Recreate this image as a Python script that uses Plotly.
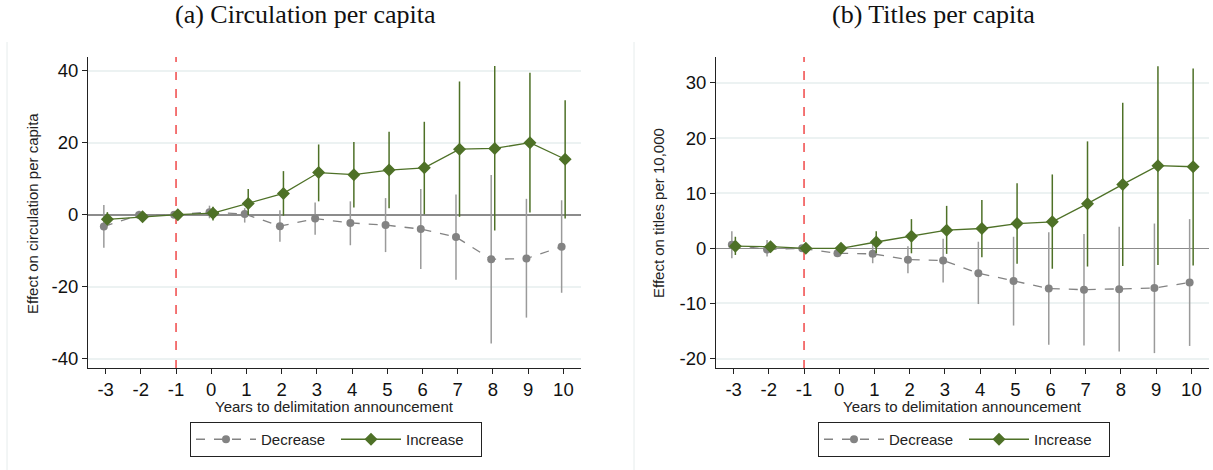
import plotly.graph_objects as go

years = [-3, -2, -1, 0, 1, 2, 3, 4, 5, 6, 7, 8, 9, 10]
x_ticks = [-3, -2, -1, 0, 1, 2, 3, 4, 5, 6, 7, 8, 9, 10]
x_ticklabels = ["-3", "-2", "-1", "0", "1", "2", "3", "4", "5", "6", "7", "8", "9", "10"]

# Panel (a): circulation per capita
a_dec = [-3.3, -0.1, 0.0, 0.7, 0.2, -3.2, -1.1, -2.3, -2.9, -4.0, -6.2, -12.4, -12.2, -8.9]
a_dec_hi = [2.7, 1.1, 0.0, 2.5, 1.8, 1.2, 3.4, 3.7, 4.6, 7.1, 5.6, 11.0, 4.4, 4.0]
a_dec_lo = [-9.2, -1.2, 0.0, -1.0, -2.2, -7.5, -5.6, -8.5, -10.4, -15.1, -18.1, -35.8, -28.6, -21.7]
a_inc = [-1.3, -0.6, 0.0, 0.4, 3.1, 5.9, 11.7, 11.1, 12.4, 13.0, 18.2, 18.4, 20.0, 15.4]
a_inc_hi = [0.7, 0.3, 0.0, 2.2, 7.1, 12.1, 19.5, 20.2, 23.0, 25.8, 37.0, 41.3, 39.4, 31.8]
a_inc_lo = [-2.4, -1.4, 0.0, -1.6, -0.1, -0.3, 3.7, 2.0, 1.8, 0.1, -0.6, -4.4, 0.6, -1.1]
a_yticks = [-40, -20, 0, 20, 40]
a_yticklabels = ["-40", "-20", "0", "20", "40"]

# Panel (b): titles per capita
b_dec = [0.66, -0.2, 0.0, -0.9, -1.0, -2.05, -2.2, -4.5, -5.9, -7.3, -7.5, -7.4, -7.2, -6.2]
b_dec_hi = [3.1, 1.5, 0.0, -0.6, 1.5, 0.4, 1.75, 1.2, 2.1, 2.9, 2.6, 3.9, 4.5, 5.3]
b_dec_lo = [-1.8, -1.5, 0.0, -1.2, -2.7, -4.5, -6.2, -10.1, -14.0, -17.5, -17.6, -18.7, -19.0, -17.7]
b_inc = [0.4, 0.3, 0.0, 0.0, 1.15, 2.2, 3.3, 3.6, 4.5, 4.8, 8.1, 11.6, 15.0, 14.8]
b_inc_hi = [2.1, 0.8, 0.0, 0.3, 3.1, 5.3, 7.7, 8.75, 11.8, 13.4, 19.4, 26.4, 33.0, 32.6]
b_inc_lo = [-1.2, -0.2, 0.0, -0.3, -0.9, -0.9, -1.0, -1.6, -2.8, -3.7, -3.3, -3.2, -3.0, -3.1]
b_yticks = [-20, -10, 0, 10, 20, 30]
b_yticklabels = ["-20", "-10", "0", "10", "20", "30"]

series_names = ["Decrease", "Increase"]
titles = ["(a) Circulation per capita", "(b) Titles per capita"]
ytitles = ["Effect on circulation per capita", "Effect on titles per 10,000"]
xtitle = "Years to delimitation announcement"

GRAY = "#838383"
GRAY_CI = "#9a9a9a"
GREEN = "#4e7127"
FONT = "Liberation Sans, Arial, sans-serif"

fig = go.Figure()

def add_panel(xa, ya, legend, dec, dhi, dlo, inc, ihi, ilo):
    xd = [v - 0.05 for v in years]
    xi = [v + 0.05 for v in years]
    fig.add_trace(go.Scatter(
        x=xd, y=dec, mode="lines+markers", name=series_names[0],
        line=dict(color=GRAY, width=1.3, dash="dash"),
        marker=dict(symbol="circle", size=8, color=GRAY),
        error_y=dict(type="data", symmetric=False,
                     array=[h - v for h, v in zip(dhi, dec)],
                     arrayminus=[v - l for v, l in zip(dec, dlo)],
                     color=GRAY_CI, thickness=1.5, width=0),
        xaxis=xa, yaxis=ya, legend=legend))
    fig.add_trace(go.Scatter(
        x=xi, y=inc, mode="lines+markers", name=series_names[1],
        line=dict(color=GREEN, width=1.3),
        marker=dict(symbol="diamond", size=10, color=GREEN),
        error_y=dict(type="data", symmetric=False,
                     array=[h - v for h, v in zip(ihi, inc)],
                     arrayminus=[v - l for v, l in zip(inc, ilo)],
                     color=GREEN, thickness=1.5, width=0),
        xaxis=xa, yaxis=ya, legend=legend))

add_panel("x", "y", "legend", a_dec, a_dec_hi, a_dec_lo, a_inc, a_inc_hi, a_inc_lo)
add_panel("x2", "y2", "legend2", b_dec, b_dec_hi, b_dec_lo, b_inc, b_inc_hi, b_inc_lo)

W, H = 1213, 470
def px(x):
    return x / W
def py(y):
    return (H - y) / H

axis_common = dict(showline=True, linecolor="#222", linewidth=1, ticks="outside",
                   ticklen=5, tickcolor="#222", automargin=False,
                   tickfont=dict(family=FONT, size=18.5, color="#111"))

legend_common = dict(orientation="h", xanchor="left", yanchor="top",
                     bordercolor="#222", borderwidth=1, font=dict(size=15, color="#222"),
                     itemwidth=60, entrywidth=70, tracegroupgap=0)

fig.update_layout(
    width=W, height=H, margin=dict(l=0, r=0, t=0, b=0),
    paper_bgcolor="white", plot_bgcolor="white", font=dict(family=FONT),
    xaxis=dict(domain=[px(88), px(581)], anchor="y", range=[-3.5, 10.5],
               tickvals=x_ticks, ticktext=x_ticklabels, showgrid=False, zeroline=False,
               **axis_common),
    yaxis=dict(domain=[py(368), py(57)], anchor="x", range=[-42.6, 43.8],
               tickvals=a_yticks, ticktext=a_yticklabels,
               showgrid=True, gridcolor="#ecf2f2", gridwidth=1.5,
               zeroline=True, zerolinecolor="#8c8c8c", zerolinewidth=1.5,
               **axis_common),
    xaxis2=dict(domain=[px(716), px(1209)], anchor="y2", range=[-3.5, 10.5],
                tickvals=x_ticks, ticktext=x_ticklabels, showgrid=False, zeroline=False,
                **axis_common),
    yaxis2=dict(domain=[py(368), py(57)], anchor="x2", range=[-21.7, 34.7],
                tickvals=b_yticks, ticktext=b_yticklabels,
                showgrid=True, gridcolor="#ecf2f2", gridwidth=1.5,
                zeroline=True, zerolinecolor="#8c8c8c", zerolinewidth=1.2,
                **axis_common),
    legend=dict(x=px(190), y=py(422), **legend_common),
    legend2=dict(x=px(818), y=py(422), **legend_common),
    showlegend=True,
)

for xr, yr in [("x", "y"), ("x2", "y2")]:
    fig.add_shape(type="line", xref=xr, yref=yr + " domain", x0=-1, x1=-1, y0=0, y1=1,
                  line=dict(color="#f04848", width=1.5, dash="dash"), layer="below")

# faint panel frames
for xp in [7, 634]:
    fig.add_shape(type="line", xref="paper", yref="paper", x0=px(xp), x1=px(xp),
                  y0=py(42), y1=0, line=dict(color="#e6ecec", width=1))

def note(xc, yc, txt, **kw):
    fig.add_annotation(x=px(xc), y=py(yc), xref="paper", yref="paper", text=txt,
                       xanchor="center", yanchor="middle", showarrow=False, **kw)

# panel titles
serif = dict(family="Liberation Serif, serif", size=26, color="#111")
note(305, 15, titles[0], font=serif)
note(933, 15, titles[1], font=serif)

# axis titles
note(32, 214, ytitles[0], textangle=-90, font=dict(size=15, color="#222"))
note(658, 213, ytitles[1], textangle=-90, font=dict(size=15, color="#222"))
note(334.5, 406, xtitle, font=dict(size=15, color="#222"))
note(962.5, 406, xtitle, font=dict(size=15, color="#222"))

fig.write_html("out.html")
